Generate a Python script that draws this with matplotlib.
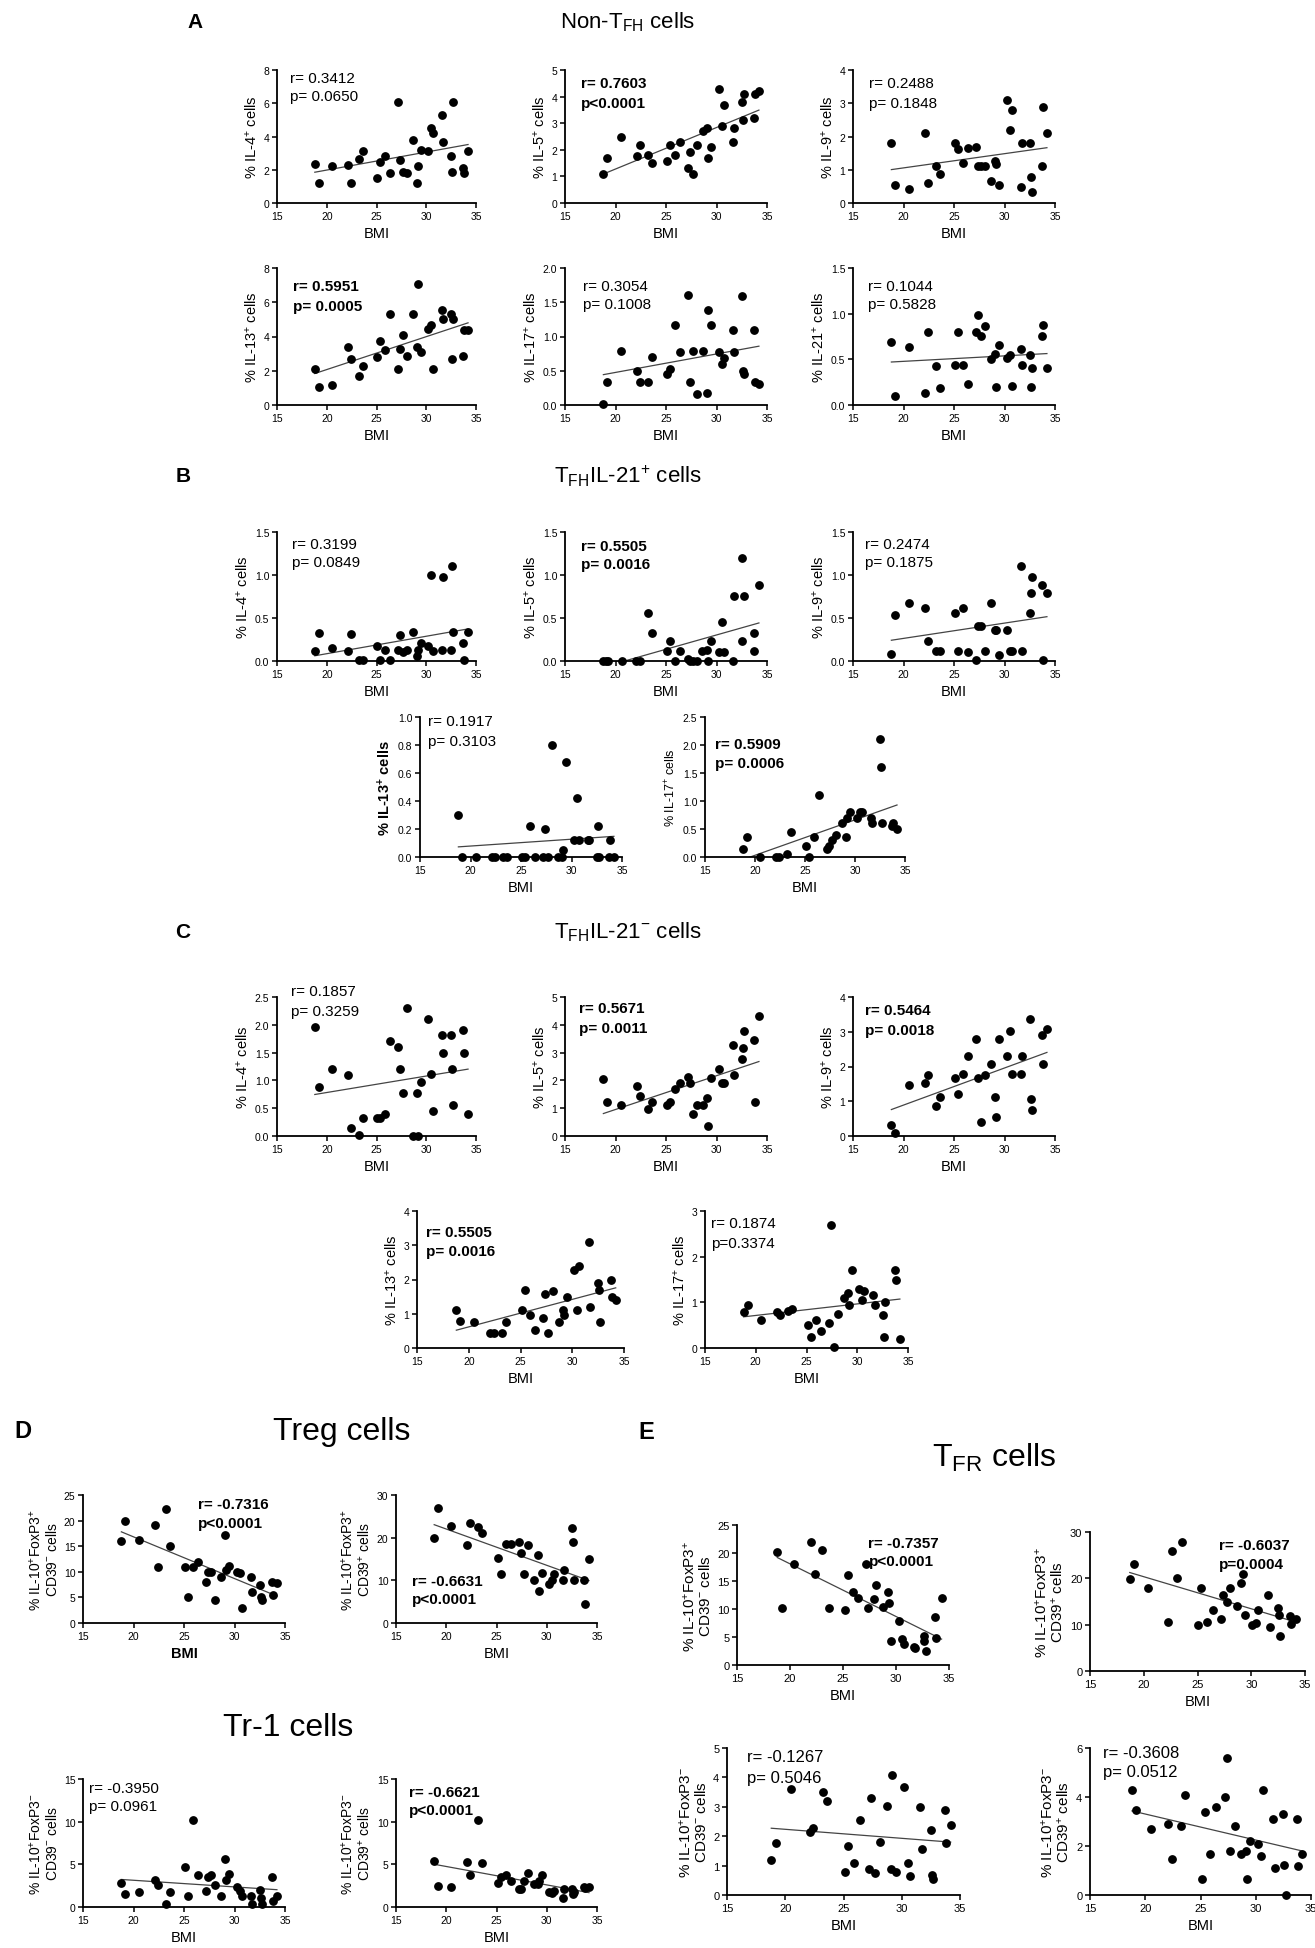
import numpy as np
import matplotlib
matplotlib.use("Agg")
import matplotlib.pyplot as plt
from matplotlib import font_manager

_names = {f.name for f in font_manager.fontManager.ttflist}
NARROW = 'Liberation Sans Narrow' if 'Liberation Sans Narrow' in _names else 'Liberation Sans'
plt.rcParams['font.family'] = ['Liberation Sans', 'DejaVu Sans']
plt.rcParams['mathtext.default'] = 'regular'

# ---------------- data ----------------
BMI = [18.8, 19.2, 20.5, 22.1, 22.4, 23.2, 23.6, 25.1, 25.4, 25.9, 26.4, 27.2, 27.4, 27.7, 28.1,
       28.7, 29.1, 29.2, 29.5, 30.2, 30.5, 30.7, 31.6, 31.7, 32.5, 32.6, 32.7, 33.7, 33.8, 34.2]
BMI_TICKS = [15, 20, 25, 30, 35]

# A: Non-TFH cells
nontfh_il4 = [2.34, 1.2, 2.2, 2.28, 1.2, 2.62, 3.12, 1.5, 2.44, 2.8, 1.78, 6.08, 2.6, 1.88, 1.78,
              3.8, 1.18, 2.2, 3.2, 3.1, 4.5, 4.2, 5.28, 3.68, 2.8, 1.88, 6.08, 2.12, 1.78, 3.1]
nontfh_il5 = [1.09, 1.69, 2.5, 1.78, 2.19, 1.8, 1.49, 1.59, 2.19, 1.8, 2.31, 1.31, 1.9, 1.09, 2.19,
              2.71, 2.81, 1.69, 2.09, 4.3, 2.9, 3.69, 2.3, 2.81, 3.8, 3.13, 4.11, 3.2, 4.11, 4.21]
nontfh_il9 = [1.79, 0.55, 0.42, 2.1, 0.6, 1.1, 0.87, 1.79, 1.62, 1.2, 1.64, 1.67, 1.1, 1.1, 1.1,
              0.67, 1.27, 1.17, 0.55, 3.1, 2.2, 2.8, 0.47, 1.79, 1.79, 0.77, 0.34, 1.1, 2.9, 2.1]
nontfh_il13 = [2.08, 1.08, 1.18, 3.4, 2.68, 1.68, 2.3, 2.8, 3.74, 3.2, 5.3, 2.08, 3.28, 4.08, 2.88,
               5.3, 3.4, 7.08, 3.08, 4.45, 4.65, 2.08, 5.53, 5.0, 5.3, 2.68, 5.0, 2.88, 4.4, 4.4]
nontfh_il17 = [0.01, 0.34, 0.79, 0.5, 0.34, 0.34, 0.7, 0.45, 0.53, 1.17, 0.78, 1.6, 0.34, 0.79, 0.16,
               0.79, 0.18, 1.39, 1.17, 0.78, 0.6, 0.68, 1.09, 0.78, 1.59, 0.5, 0.45, 1.09, 0.34, 0.3]
nontfh_il21 = [0.69, 0.10, 0.64, 0.13, 0.8, 0.43, 0.19, 0.44, 0.8, 0.44, 0.23, 0.8, 0.99, 0.76, 0.86,
               0.5, 0.56, 0.2, 0.66, 0.52, 0.55, 0.21, 0.61, 0.44, 0.55, 0.2, 0.4, 0.76, 0.88, 0.4]

# B: TFH IL-21+ cells
tfh21p_il4 = [0.12, 0.32, 0.15, 0.12, 0.31, 0.01, 0.01, 0.17, 0.01, 0.13, 0.01, 0.13, 0.3, 0.1, 0.13,
              0.34, 0.06, 0.13, 0.21, 0.17, 1.0, 0.12, 0.13, 0.98, 0.13, 1.1, 0.34, 0.21, 0.01, 0.34]
tfh21p_il5_bmi = [18.8, 19.1, 19.3, 20.6, 22.0, 22.4, 23.2, 23.6, 25.1, 25.4, 25.9, 26.4, 27.2, 27.4, 27.7, 28.1,
                  28.6, 29.1, 29.2, 29.5, 30.2, 30.5, 30.7, 31.6, 31.7, 32.5, 32.5, 32.7, 33.7, 33.7, 34.2]
tfh21p_il5 = [0, 0, 0, 0, 0, 0, 0.56, 0.33, 0.12, 0.23, 0, 0.12, 0.02, 0, 0, 0,
              0.12, 0.13, 0, 0.23, 0.11, 0.45, 0.11, 0, 0.76, 0.23, 1.2, 0.76, 0.33, 0.12, 0.88]
tfh21p_il9 = [0.08, 0.54, 0.68, 0.62, 0.23, 0.12, 0.12, 0.56, 0.12, 0.62, 0.1, 0.01, 0.41, 0.41, 0.12,
              0.68, 0.36, 0.36, 0.07, 0.36, 0.12, 0.12, 1.1, 0.12, 0.56, 0.79, 0.98, 0.88, 0.01, 0.79]
tfh21p_il13 = [0.30, 0.0, 0.0, 0.0, 0.0, 0.0, 0.0, 0.0, 0.0, 0.22, 0.0, 0.0, 0.20, 0.0, 0.80,
               0.0, 0.0, 0.05, 0.68, 0.12, 0.42, 0.12, 0.12, 0.12, 0.0, 0.22, 0.0, 0.0, 0.12, 0.0]
tfh21p_il17 = [0.15, 0.35, 0.0, 0.0, 0.0, 0.05, 0.45, 0.20, 0.0, 0.35, 1.10, 0.15, 0.20, 0.30, 0.40,
               0.60, 0.35, 0.70, 0.80, 0.70, 0.80, 0.80, 0.70, 0.60, 2.10, 1.60, 0.60, 0.55, 0.60, 0.50]

# C: TFH IL-21- cells
tfh21n_il4 = [1.96, 0.89, 1.2, 1.1, 0.14, 0.01, 0.33, 0.32, 0.33, 0.4, 1.71, 1.6, 1.2, 0.78, 2.3,
              0.0, 0.78, 0.0, 0.97, 2.1, 1.11, 0.45, 1.82, 1.5, 1.82, 1.2, 0.56, 1.91, 1.5, 0.4]
tfh21n_il5 = [2.06, 1.21, 1.11, 1.79, 1.45, 0.97, 1.21, 1.11, 1.21, 1.69, 1.9, 2.12, 1.9, 0.79, 1.11,
              1.11, 1.37, 0.36, 2.09, 2.42, 1.9, 1.9, 3.29, 2.2, 2.78, 3.18, 3.79, 3.47, 1.21, 4.3]
tfh21n_il9 = [0.31, 0.1, 1.48, 1.53, 1.76, 0.85, 1.11, 1.68, 1.2, 1.78, 2.29, 2.78, 1.68, 0.41, 1.76,
              2.07, 1.11, 0.56, 2.78, 2.29, 3.02, 1.78, 1.78, 2.29, 3.37, 1.07, 0.75, 2.9, 2.07, 3.07]
tfh21n_il13 = [1.10, 0.79, 0.77, 0.45, 0.45, 0.45, 0.77, 1.10, 1.68, 0.97, 0.54, 0.89, 1.59, 0.45, 1.65,
               0.77, 1.10, 0.97, 1.49, 2.29, 1.10, 2.39, 3.09, 1.20, 1.90, 1.68, 0.77, 1.98, 1.49, 1.39]
tfh21n_il17 = [0.78, 0.95, 0.62, 0.78, 0.72, 0.80, 0.85, 0.50, 0.25, 0.62, 0.38, 0.55, 2.70, 0.02, 0.75,
               1.10, 1.20, 0.95, 1.70, 1.30, 1.05, 1.25, 1.15, 0.95, 0.72, 0.25, 1.00, 1.70, 1.50, 0.20]

# D: Treg / Tr-1 cells
treg_cd39n = [16.0, 20.0, 16.2, 19.1, 11.0, 22.3, 15.1, 11.0, 5.0, 11.0, 11.9, 8.0, 10.0, 10.0, 4.5,
              8.9, 17.1, 10.3, 11.2, 10.0, 9.7, 3.0, 8.9, 6.0, 7.4, 5.0, 4.5, 8.0, 5.5, 7.8]
treg_cd39p = [19.9, 27.0, 22.7, 18.2, 23.4, 22.4, 21.1, 15.3, 11.5, 18.4, 18.4, 18.9, 16.3, 11.5, 18.2,
              10.0, 15.9, 7.5, 11.8, 9.1, 10.0, 11.4, 10.0, 12.5, 22.2, 18.9, 10.0, 10.0, 4.5, 15.0]
tr1_cd39n = [2.8, 1.5, 1.8, 3.2, 2.6, 0.3, 1.8, 4.7, 1.3, 10.2, 3.7, 1.9, 3.5, 3.7, 2.6,
             1.3, 5.6, 3.2, 3.9, 2.4, 1.9, 1.3, 1.3, 0.4, 2.0, 1.1, 0.3, 3.5, 0.7, 1.3]
tr1_cd39p = [5.4, 2.5, 2.3, 5.3, 3.8, 10.2, 5.1, 2.8, 3.5, 3.7, 3.1, 2.1, 2.1, 3.1, 4.0,
             2.7, 2.7, 3.0, 3.8, 1.8, 1.6, 1.9, 1.1, 2.1, 2.1, 1.5, 1.8, 2.3, 2.2, 2.4]

# E: TFR cells
tfr_cd39n_bmi = [18.8, 19.2, 20.4, 22.0, 22.4, 23.0, 23.7, 25.2, 25.5, 25.9, 26.4, 27.2, 27.4, 27.9, 28.1,
                 28.8, 29.2, 29.3, 29.5, 30.3, 30.6, 30.8, 31.7, 31.8, 32.6, 32.6, 32.8, 33.7, 33.8, 34.3]
tfr_cd39n = [20.2, 10.1, 18.1, 22.0, 16.2, 20.5, 10.1, 9.8, 16.0, 13.0, 12.0, 18.1, 10.1, 11.8, 14.2,
             10.4, 13.0, 11.1, 4.3, 7.9, 4.6, 3.7, 3.3, 3.1, 5.2, 4.3, 2.5, 8.6, 4.9, 12.0]
tfr_cd39p_bmi = [18.7, 19.1, 20.4, 22.3, 22.6, 23.1, 23.6, 25.0, 25.3, 25.9, 26.4, 27.2, 27.4, 27.7, 28.0,
                 28.7, 29.0, 29.2, 29.4, 30.1, 30.4, 30.6, 31.6, 31.7, 32.5, 32.6, 32.7, 33.6, 33.7, 34.2]
tfr_cd39p = [19.8, 23.1, 18.0, 10.5, 26.0, 20.0, 27.8, 10.0, 18.0, 10.5, 13.1, 11.2, 16.5, 15.0, 18.0,
             14.0, 19.1, 21.0, 12.1, 10.0, 10.3, 13.1, 16.5, 9.4, 13.5, 12.1, 7.6, 11.9, 10.2, 11.2]
tfr_fox_cd39n = [1.20, 1.77, 3.61, 2.13, 2.28, 3.50, 3.19, 0.79, 1.67, 1.10, 2.55, 0.90, 3.30, 0.76, 1.79,
                 3.04, 0.90, 4.09, 0.79, 3.69, 1.10, 0.65, 3.01, 1.58, 2.21, 0.67, 0.56, 2.89, 1.77, 2.38]
tfr_fox_cd39p = [4.30, 3.48, 2.69, 2.90, 1.46, 2.80, 4.10, 0.67, 3.40, 1.69, 3.61, 3.99, 5.60, 1.80, 2.80,
                 1.69, 1.80, 0.67, 2.21, 2.08, 1.60, 4.30, 3.10, 1.09, 3.31, 1.22, 0.00, 3.10, 1.19, 1.69]

# ---------------- figure ----------------
W, H = 1315, 1949
fig = plt.figure(figsize=(W / 100, H / 100), dpi=100)


def fmt_tick(v, ticks):
    if all(float(t).is_integer() for t in ticks):
        return str(int(v))
    return f"{v:.1f}"


def panel(rect, x, y, yticks, ylabel, rtxt, ptxt, sig, tpos=(0.07, 0.91, 0.77),
          ylabel_bold=False, xlabel_bold=False, ylfs=10.5, txfs=11, tickfs=7.5, ylpad=3):
    x0, x1, yt, yb = rect
    ax = fig.add_axes([x0 / W, 1 - yb / H, (x1 - x0) / W, (yb - yt) / H])
    xa = np.asarray(x, float)
    ya = np.asarray(y, float)
    k, b = np.polyfit(xa, ya, 1)
    xs = np.array([xa.min(), xa.max()])
    ax.plot(xs, k * xs + b, color='#444444', lw=0.9, zorder=2)
    ax.plot(xa, ya, 'o', color='black', ms=5.3, mec='black', clip_on=False, zorder=3)
    ax.set_xlim(15, 35)
    ax.set_ylim(yticks[0], yticks[-1])
    ax.set_xticks(BMI_TICKS)
    ax.set_xticklabels([str(t) for t in BMI_TICKS])
    ax.set_yticks(yticks)
    ax.set_yticklabels([fmt_tick(t, yticks) for t in yticks])
    for s in ('top', 'right'):
        ax.spines[s].set_visible(False)
    for s in ('left', 'bottom'):
        ax.spines[s].set_linewidth(1.3)
    ax.tick_params(direction='out', length=3.5, width=1.1, labelsize=tickfs,
                   labelfontfamily=NARROW, pad=2)
    ax.set_xlabel('BMI', fontsize=10.5, labelpad=4,
                  fontweight='bold' if xlabel_bold else 'normal')
    ax.set_ylabel(ylabel, fontsize=ylfs, labelpad=ylpad, linespacing=1.05,
                  fontweight='bold' if ylabel_bold else 'normal')
    w = 'bold' if sig else 'normal'
    ax.text(tpos[0], tpos[1], rtxt, transform=ax.transAxes, fontsize=txfs,
            family=NARROW, fontweight=w, va='center', ha='left')
    ax.text(tpos[0], tpos[2], ptxt, transform=ax.transAxes, fontsize=txfs,
            family=NARROW, fontweight=w, va='center', ha='left')
    return ax


def lab(s):
    return "% IL-" + s + "$^{+}$ cells"


cols3 = [(277, 476), (565, 767), (853, 1055)]
cols2B = [(420, 622), (705, 905)]
cols2C = [(417, 624), (705, 908)]
colsD = [(83, 285), (396, 597)]

# ---- Section A ----
fig.text(195 / W, 1 - 22 / H, 'A', fontsize=15, fontweight='bold', ha='center', va='center')
fig.text(628 / W, 1 - 22 / H, 'Non-T$_{FH}$ cells', fontsize=16, ha='center', va='center')
yA1, yA2 = (71, 204), (269, 406)
panel((*cols3[0], *yA1), BMI, nontfh_il4, [0, 2, 4, 6, 8], lab('4'), 'r= 0.3412', 'p= 0.0650', False,
      (0.065, 0.94, 0.805))
panel((*cols3[1], *yA1), BMI, nontfh_il5, [0, 1, 2, 3, 4, 5], lab('5'), 'r= 0.7603', 'p<0.0001', True,
      (0.08, 0.90, 0.75))
panel((*cols3[2], *yA1), BMI, nontfh_il9, [0, 1, 2, 3, 4], lab('9'), 'r= 0.2488', 'p= 0.1848', False,
      (0.08, 0.90, 0.75))
panel((*cols3[0], *yA2), BMI, nontfh_il13, [0, 2, 4, 6, 8], lab('13'), 'r= 0.5951', 'p= 0.0005', True,
      (0.08, 0.87, 0.72))
panel((*cols3[1], *yA2), BMI, nontfh_il17, [0.0, 0.5, 1.0, 1.5, 2.0], lab('17'), 'r= 0.3054', 'p= 0.1008',
      False, (0.09, 0.87, 0.74))
panel((*cols3[2], *yA2), BMI, nontfh_il21, [0.0, 0.5, 1.0, 1.5], lab('21'), 'r= 0.1044', 'p= 0.5828',
      False, (0.075, 0.87, 0.74))

# ---- Section B ----
fig.text(183 / W, 1 - 476 / H, 'B', fontsize=15, fontweight='bold', ha='center', va='center')
fig.text(628 / W, 1 - 476 / H, 'T$_{FH}$IL-21$^{+}$ cells', fontsize=16, ha='center', va='center')
yB1, yB2 = (533, 662), (718, 858)
panel((*cols3[0], *yB1), BMI, tfh21p_il4, [0.0, 0.5, 1.0, 1.5], lab('4'), 'r= 0.3199', 'p= 0.0849', False,
      (0.077, 0.91, 0.77))
panel((*cols3[1], *yB1), tfh21p_il5_bmi, tfh21p_il5, [0.0, 0.5, 1.0, 1.5], lab('5'), 'r= 0.5505',
      'p= 0.0016', True, (0.08, 0.89, 0.75))
panel((*cols3[2], *yB1), BMI, tfh21p_il9, [0.0, 0.5, 1.0, 1.5], lab('9'), 'r= 0.2474', 'p= 0.1875', False,
      (0.06, 0.91, 0.77))
panel((*cols2B[0], *yB2), BMI, tfh21p_il13, [0.0, 0.2, 0.4, 0.6, 0.8, 1.0], lab('13'), 'r= 0.1917',
      'p= 0.3103', False, (0.04, 0.97, 0.83), ylabel_bold=True)
panel((*cols2B[1], *yB2), BMI, tfh21p_il17, [0.0, 0.5, 1.0, 1.5, 2.0, 2.5], lab('17'), 'r= 0.5909',
      'p= 0.0006', True, (0.05, 0.81, 0.67), ylfs=9)

# ---- Section C ----
fig.text(183 / W, 1 - 932 / H, 'C', fontsize=15, fontweight='bold', ha='center', va='center')
fig.text(628 / W, 1 - 932 / H, 'T$_{FH}$IL-21$^{-}$ cells', fontsize=16, ha='center', va='center')
yC1, yC2 = (998, 1137), (1212, 1349)
panel((*cols3[0], *yC1), BMI, tfh21n_il4, [0.0, 0.5, 1.0, 1.5, 2.0, 2.5], lab('4'), 'r= 0.1857',
      'p= 0.3259', False, (0.07, 1.04, 0.90))
panel((*cols3[1], *yC1), BMI, tfh21n_il5, [0, 1, 2, 3, 4, 5], lab('5'), 'r= 0.5671', 'p= 0.0011', True,
      (0.07, 0.92, 0.775))
panel((*cols3[2], *yC1), BMI, tfh21n_il9, [0, 1, 2, 3, 4], lab('9'), 'r= 0.5464', 'p= 0.0018', True,
      (0.06, 0.91, 0.76))
panel((*cols2C[0], *yC2), BMI, tfh21n_il13, [0, 1, 2, 3, 4], lab('13'), 'r= 0.5505', 'p= 0.0016', True,
      (0.045, 0.85, 0.71))
panel((*cols2C[1], *yC2), BMI, tfh21n_il17, [0, 1, 2, 3], lab('17'), 'r= 0.1874', 'p=0.3374', False,
      (0.03, 0.91, 0.77))

# ---- Section D ----
fig.text(14 / W, 1 - 1432 / H, 'D', fontsize=17, fontweight='bold', ha='left', va='center')
fig.text(342 / W, 1 - 1432 / H, 'Treg cells', fontsize=23, ha='center', va='center')
fig.text(288 / W, 1 - 1728 / H, 'Tr-1 cells', fontsize=23, ha='center', va='center')
lab_pp_n = "% IL-10$^{+}$FoxP3$^{+}$\nCD39$^{-}$ cells"
lab_pp_p = "% IL-10$^{+}$FoxP3$^{+}$\nCD39$^{+}$ cells"
lab_pn_n = "% IL-10$^{+}$FoxP3$^{-}$\nCD39$^{-}$ cells"
lab_pn_p = "% IL-10$^{+}$FoxP3$^{-}$\nCD39$^{+}$ cells"
yDt, yDb = (1496, 1624), (1780, 1908)
panel((*colsD[0], *yDt), BMI, treg_cd39n, [0, 5, 10, 15, 20, 25], lab_pp_n, 'r= -0.7316', 'p<0.0001', True,
      (0.57, 0.93, 0.78), xlabel_bold=True, ylfs=10)
panel((*colsD[1], *yDt), BMI, treg_cd39p, [0, 10, 20, 30], lab_pp_p, 'r= -0.6631', 'p<0.0001', True,
      (0.08, 0.33, 0.19), ylfs=10)
panel((*colsD[0], *yDb), BMI, tr1_cd39n, [0, 5, 10, 15], lab_pn_n, 'r= -0.3950', 'p= 0.0961', False,
      (0.03, 0.93, 0.79), ylfs=10)
panel((*colsD[1], *yDb), BMI, tr1_cd39p, [0, 5, 10, 15], lab_pn_p, 'r= -0.6621', 'p<0.0001', True,
      (0.063, 0.90, 0.76), ylfs=10)

# ---- Section E ----
fig.text(646 / W, 1 - 1433 / H, 'E', fontsize=17, fontweight='bold', ha='center', va='center')
fig.text(994 / W, 1 - 1458 / H, 'T$_{FR}$ cells', fontsize=23, ha='center', va='center')
panel((737, 949, 1526, 1666), tfr_cd39n_bmi, tfr_cd39n, [0, 5, 10, 15, 20, 25], lab_pp_n, 'r= -0.7357',
      'p<0.0001', True, (0.62, 0.87, 0.74), ylfs=11, tickfs=8)
panel((1090, 1305, 1533, 1672), tfr_cd39p_bmi, tfr_cd39p, [0, 10, 20, 30], lab_pp_p, 'r= -0.6037',
      'p=0.0004', True, (0.60, 0.91, 0.77), ylfs=11, tickfs=8)
panel((727, 960, 1749, 1896), BMI, tfr_fox_cd39n, [0, 1, 2, 3, 4, 5], lab_pn_n, 'r= -0.1267', 'p= 0.5046',
      False, (0.084, 0.94, 0.80), ylfs=11, tickfs=8, txfs=12)
panel((1090, 1311, 1749, 1896), BMI, tfr_fox_cd39p, [0, 2, 4, 6], lab_pn_p, 'r= -0.3608', 'p= 0.0512',
      False, (0.06, 0.97, 0.84), ylfs=11, tickfs=8, txfs=12)

fig.savefig('out.png', dpi=100, facecolor='white')
